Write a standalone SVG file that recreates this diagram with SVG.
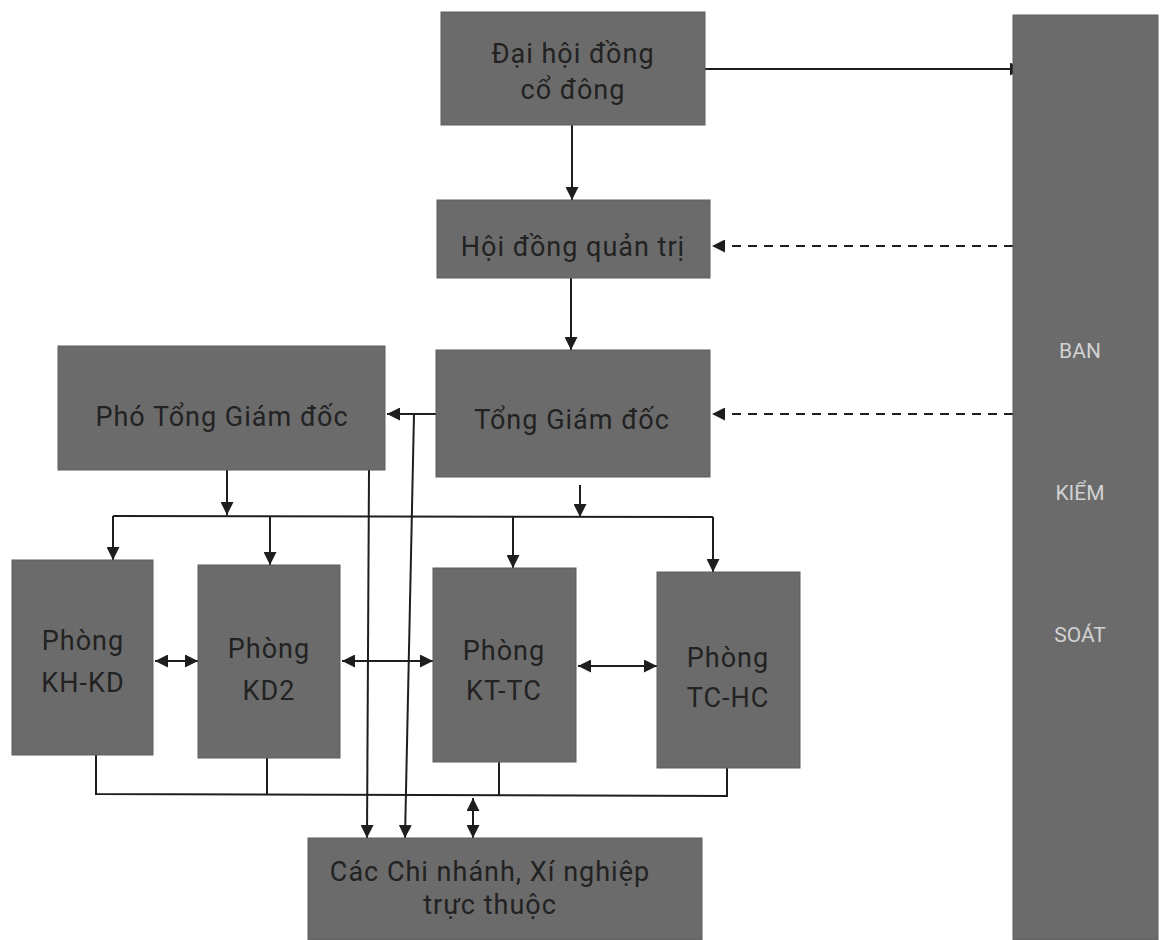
<svg xmlns="http://www.w3.org/2000/svg" width="1160" height="940" viewBox="0 0 1160 940">
<style>
.box{fill:#6b6b6b;stroke:#5e5e5e;stroke-width:1}
.t{font-family:Roboto,"Liberation Sans",sans-serif;font-size:27px;letter-spacing:1px;fill:#222222;text-anchor:middle}
.tb{font-family:Roboto,"Liberation Sans",sans-serif;font-size:21px;fill:#d2d2d2;text-anchor:middle}
.ln{fill:none;stroke:#1e1e1e;stroke-width:2}
.end{marker-end:url(#ah)}
.both{marker-start:url(#ahs);marker-end:url(#ah)}
.dash{stroke-dasharray:9 7}
</style>
<defs>
<marker id="ah" viewBox="0 0 10 10" refX="10" refY="5" markerWidth="6.5" markerHeight="6.5" markerUnits="strokeWidth" orient="auto">
<path d="M0,0 L10,5 L0,10 z" fill="#1e1e1e"/>
</marker>
<marker id="ahs" viewBox="0 0 10 10" refX="0" refY="5" markerWidth="6.5" markerHeight="6.5" markerUnits="strokeWidth" orient="auto">
<path d="M10,0 L0,5 L10,10 z" fill="#1e1e1e"/>
</marker>
</defs>
<rect width="1160" height="940" fill="#ffffff"/>

<g id="connectors">
<line class="ln end" x1="705" y1="69" x2="1023" y2="69"/>
<line class="ln end" x1="572" y1="125" x2="572" y2="200"/>
<line class="ln end dash" x1="1013" y1="246" x2="712" y2="246"/>
<line class="ln end" x1="571" y1="278" x2="571" y2="350"/>
<line class="ln end dash" x1="1013" y1="414" x2="712" y2="414"/>
<line class="ln end" x1="436" y1="414" x2="387" y2="414"/>
<line class="ln end" x1="369" y1="470" x2="367" y2="838"/>
<line class="ln end" x1="414" y1="414" x2="405" y2="838"/>
<line class="ln end" x1="227" y1="470" x2="227" y2="515"/>
<line class="ln end" x1="580" y1="485" x2="580" y2="517"/>
<polyline class="ln end" points="113,516 113,560"/>
<line class="ln" x1="113" y1="516" x2="713" y2="517"/>
<line class="ln end" x1="270" y1="516" x2="270" y2="565"/>
<line class="ln end" x1="513" y1="517" x2="513" y2="568"/>
<line class="ln end" x1="713" y1="517" x2="713" y2="572"/>
<line class="ln both" x1="155" y1="661" x2="198" y2="661"/>
<line class="ln both" x1="342" y1="661" x2="433" y2="661"/>
<line class="ln both" x1="578" y1="666" x2="657" y2="666"/>
<polyline class="ln" points="96,755 96,794 727,796 727,768"/>
<line class="ln" x1="267" y1="758" x2="267" y2="794"/>
<line class="ln" x1="499" y1="762" x2="499" y2="795"/>
<line class="ln both" x1="473" y1="798" x2="473" y2="838"/>
</g>

<g id="n-dhdcd">
<rect class="box" x="441" y="12" width="264" height="113"/>
<text class="t" x="573" y="63">Đại hội đồng</text>
<text class="t" x="573" y="99">cổ đông</text>
</g>
<g id="n-hdqt">
<rect class="box" x="437" y="200" width="273" height="78"/>
<text class="t" x="573" y="256">Hội đồng quản trị</text>
</g>
<g id="n-tgd">
<rect class="box" x="436" y="350" width="274" height="127"/>
<text class="t" x="572" y="429">Tổng Giám đốc</text>
</g>
<g id="n-ptgd">
<rect class="box" x="58" y="346" width="327" height="124"/>
<text class="t" x="222" y="426">Phó Tổng Giám đốc</text>
</g>
<g id="n-khkd">
<rect class="box" x="12" y="560" width="141" height="195"/>
<text class="t" x="83" y="650">Phòng</text>
<text class="t" x="83" y="692">KH-KD</text>
</g>
<g id="n-kd2">
<rect class="box" x="198" y="565" width="142" height="193"/>
<text class="t" x="269" y="658">Phòng</text>
<text class="t" x="269" y="700">KD2</text>
</g>
<g id="n-kttc">
<rect class="box" x="433" y="568" width="143" height="194"/>
<text class="t" x="504" y="660">Phòng</text>
<text class="t" x="504" y="700">KT-TC</text>
</g>
<g id="n-tchc">
<rect class="box" x="657" y="572" width="143" height="196"/>
<text class="t" x="728" y="667">Phòng</text>
<text class="t" x="728" y="707">TC-HC</text>
</g>
<g id="n-cn">
<rect class="box" x="308" y="838" width="394" height="102"/>
<text class="t" x="490" y="881">Các Chi nhánh, Xí nghiệp</text>
<text class="t" x="490" y="914">trực thuộc</text>
</g>
<g id="n-bks">
<rect class="box" x="1013" y="15" width="145" height="925"/>
<text class="tb" x="1080" y="358">BAN</text>
<text class="tb" x="1080" y="500">KIỂM</text>
<text class="tb" x="1080" y="642">SOÁT</text>
</g>
</svg>
